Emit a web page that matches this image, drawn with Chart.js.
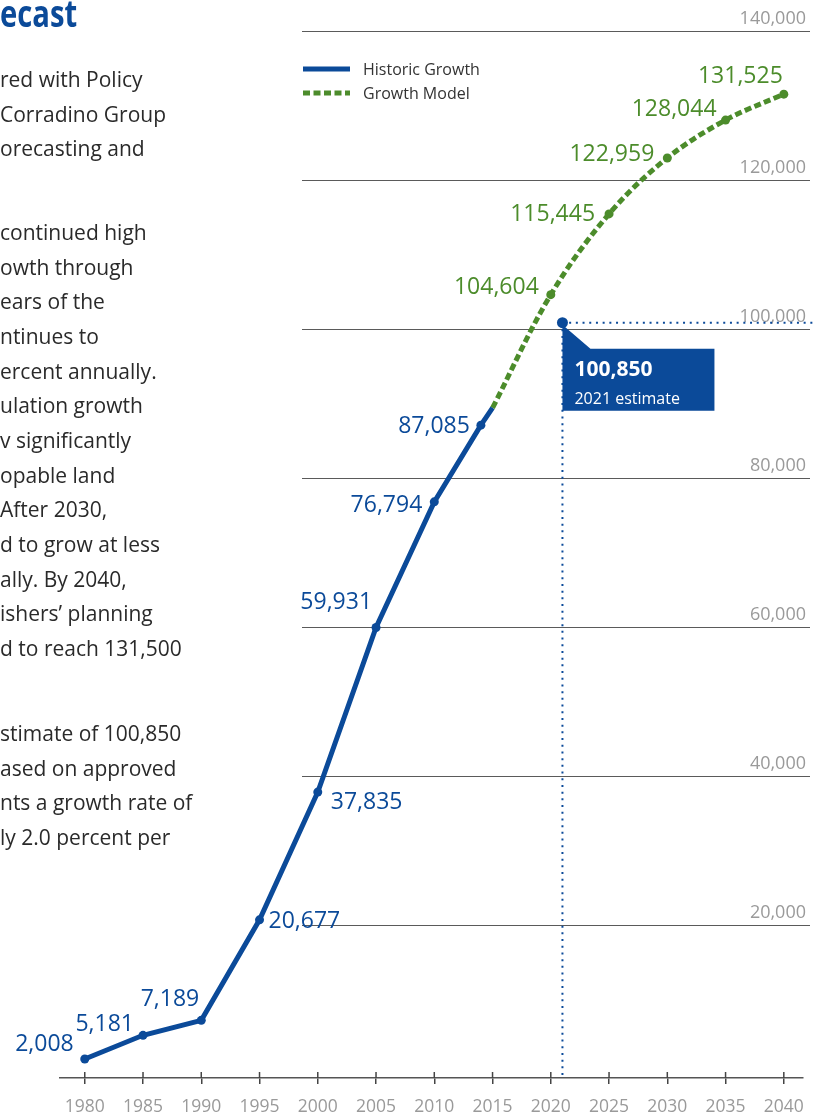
<!DOCTYPE html>
<html>
<head>
<meta charset="utf-8">
<script src="https://cdn.jsdelivr.net/npm/chart.js@4.4.1/dist/chart.umd.min.js"></script>
<style>
  html, body { margin: 0; padding: 0; background: #fff; }
  #wrap { position: relative; width: 817px; height: 1119px; overflow: hidden; }
  #grafico { position: absolute; left: 0; top: 0; }
  .title {
    position: absolute; left: 0; top: -6px;
    font: bold 37px "Open Sans"; line-height: 37px; color: #0b4a99;
    transform: scaleX(0.79); transform-origin: 0 0; white-space: nowrap;
  }
  .para {
    position: absolute; left: 0;
    font: 21px "Open Sans"; line-height: 34.65px; color: #2a2a2a; white-space: nowrap;
  }
</style>
</head>
<body>
<div id="wrap">
  <canvas id="grafico" width="817" height="1119"></canvas>
  <div class="title">ecast</div>
  <div class="para" style="top:62px">red with Policy<br>Corradino Group<br>orecasting and</div>
  <div class="para" style="top:215px">continued high<br>owth through<br>ears of the<br>ntinues to<br>ercent annually.<br>ulation growth<br>v significantly<br>opable land<br>After 2030,<br>d to grow at less<br>ally. By 2040,<br>ishers’ planning<br>d to reach 131,500</div>
  <div class="para" style="top:716px">stimate of 100,850<br>ased on approved<br>nts a growth rate of<br>ly 2.0 percent per</div>
</div>
<script>
// data
const histYears = [1980, 1985, 1990, 1995, 2000, 2005, 2010, 2014, 2015];
const histValues = [2008, 5181, 7189, 20677, 37835, 59931, 76794, 87085, 89400];
const modelYears = [2015, 2020, 2025, 2030, 2035, 2040];
const modelValues = [89400, 104604, 115445, 122959, 128044, 131525];
const estimateYear = 2021;
const estimateValue = 100850;
const xTicks = [1980, 1985, 1990, 1995, 2000, 2005, 2010, 2015, 2020, 2025, 2030, 2035, 2040];
const yTicks = [20000, 40000, 60000, 80000, 100000, 120000, 140000];

// label placement [align, dx, dy] relative to each point, null = no label
const histLabelPos = [['right', -11, -16], ['right', -9, -12], ['right', -2, -22], ['left', 9, 0],
  ['left', 13, 9], ['right', -4, -26], ['right', -12, 2], ['right', -11, 0], null];
const modelLabelPos = [null, ['right', -12, -9], ['right', -14, -1], ['right', -13, -5],
  ['right', -9, -12], ['right', -1, -19]];

const azul = '#0b4a99';
const verde = '#4c8c2b';

Chart.defaults.font.family = '"Open Sans"';

const fmt = v => v.toLocaleString('en-US');

const decor = {
  id: 'decor',
  beforeDatasetsDraw(chart) {
    const { ctx, scales: { x, y } } = chart;
    ctx.save();

    // grid lines with labels above them
    yTicks.forEach(v => {
      const py = Math.round(y.getPixelForValue(v)) + 0.5;
      ctx.strokeStyle = '#5a5a5a';
      ctx.lineWidth = 1;
      ctx.beginPath();
      ctx.moveTo(302, py);
      ctx.lineTo(810, py);
      ctx.stroke();
      ctx.fillStyle = '#9a9a9a';
      ctx.font = '18px "Open Sans"';
      ctx.textAlign = 'right';
      ctx.textBaseline = 'alphabetic';
      ctx.fillText(fmt(v), 806, py - 8);
    });

    // tick marks above the axis line
    ctx.strokeStyle = '#444';
    ctx.lineWidth = 1.5;
    xTicks.forEach(v => {
      const px = x.getPixelForValue(v);
      ctx.beginPath();
      ctx.moveTo(px, y.bottom - 6);
      ctx.lineTo(px, y.bottom);
      ctx.stroke();
    });

    // 2021 callout
    const ex = x.getPixelForValue(estimateYear);
    const ey = y.getPixelForValue(estimateValue);
    ctx.fillStyle = azul;
    ctx.beginPath();
    ctx.moveTo(ex, ey + 2);
    ctx.lineTo(ex + 28, ey + 26);
    ctx.lineTo(ex + 152, ey + 26);
    ctx.lineTo(ex + 152, ey + 88);
    ctx.lineTo(ex, ey + 88);
    ctx.closePath();
    ctx.fill();
    ctx.fillStyle = '#fff';
    ctx.textAlign = 'left';
    ctx.font = 'bold 21px "Open Sans"';
    ctx.fillText(fmt(estimateValue), ex + 12, ey + 53);
    ctx.font = '16px "Open Sans"';
    ctx.fillText(estimateYear + ' estimate', ex + 12, ey + 81);

    // dotted guides
    ctx.strokeStyle = azul;
    ctx.lineWidth = 2;
    ctx.setLineDash([2, 4.7]);
    ctx.beginPath();
    ctx.moveTo(ex, ey);
    ctx.lineTo(817, ey);
    ctx.moveTo(ex, ey);
    ctx.lineTo(ex, y.bottom - 3);
    ctx.stroke();
    ctx.setLineDash([]);

    ctx.restore();
  },
  afterDatasetsDraw(chart) {
    const { ctx } = chart;
    ctx.save();
    ctx.font = '23px "Open Sans"';
    ctx.textBaseline = 'alphabetic';

    const put = (meta, values, pos, color) => {
      ctx.fillStyle = color;
      meta.data.forEach((pt, i) => {
        if (!pos[i]) return;
        ctx.textAlign = pos[i][0];
        ctx.fillText(fmt(values[i]), pt.x + pos[i][1], pt.y + pos[i][2] + 8);
      });
    };
    put(chart.getDatasetMeta(0), histValues, histLabelPos, azul);
    put(chart.getDatasetMeta(1), modelValues, modelLabelPos, verde);

    // legend
    ctx.lineWidth = 5;
    ctx.strokeStyle = azul;
    ctx.beginPath();
    ctx.moveTo(303, 69);
    ctx.lineTo(350, 69);
    ctx.stroke();
    ctx.strokeStyle = verde;
    ctx.setLineDash([7, 3.5]);
    ctx.beginPath();
    ctx.moveTo(303, 93);
    ctx.lineTo(350, 93);
    ctx.stroke();
    ctx.setLineDash([]);
    ctx.fillStyle = '#333';
    ctx.textAlign = 'left';
    ctx.font = '16px "Open Sans"';
    ctx.fillText('Historic Growth', 363, 75);
    ctx.fillText('Growth Model', 363, 99);

    ctx.restore();
  }
};

new Chart(document.getElementById('grafico'), {
  type: 'line',
  data: {
    datasets: [{
      label: 'Historic Growth',
      data: histYears.map((yr, i) => ({ x: yr, y: histValues[i] })),
      borderColor: azul,
      backgroundColor: azul,
      borderWidth: 5,
      pointRadius: histYears.map((yr, i) => i === histYears.length - 1 ? 0 : 4.5),
      pointBorderWidth: 0,
      tension: 0
    }, {
      label: 'Growth Model',
      data: modelYears.map((yr, i) => ({ x: yr, y: modelValues[i] })),
      borderColor: verde,
      backgroundColor: verde,
      borderWidth: 5,
      borderDash: [7, 3.5],
      pointRadius: modelYears.map((yr, i) => i === 0 ? 0 : 4.5),
      pointBorderWidth: 0,
      tension: 0.35
    }, {
      label: '2021 estimate',
      data: [{ x: estimateYear, y: estimateValue }],
      showLine: false,
      backgroundColor: azul,
      pointRadius: 5.5,
      pointBorderWidth: 0
    }]
  },
  options: {
    responsive: false,
    animation: false,
    layout: { padding: { left: 60, right: 7, top: 31, bottom: 0 } },
    plugins: {
      legend: { display: false },
      tooltip: { enabled: false }
    },
    scales: {
      x: {
        type: 'linear',
        min: 1977.875,
        max: 2041.615,
        afterBuildTicks: scale => { scale.ticks = xTicks.map(v => ({ value: v })); },
        afterFit: scale => { scale.height = 41; },
        grid: { drawOnChartArea: false, tickLength: 6, color: '#444', lineWidth: 1.5 },
        border: { color: '#555', width: 1.5 },
        ticks: {
          autoSkip: false,
          maxRotation: 0,
          padding: 13,
          color: '#9a9a9a',
          font: { size: 17.5 },
          callback: v => String(v)
        }
      },
      y: {
        display: false,
        min: -550,
        max: 140000
      }
    }
  },
  plugins: [decor]
});
</script>
</body>
</html>
